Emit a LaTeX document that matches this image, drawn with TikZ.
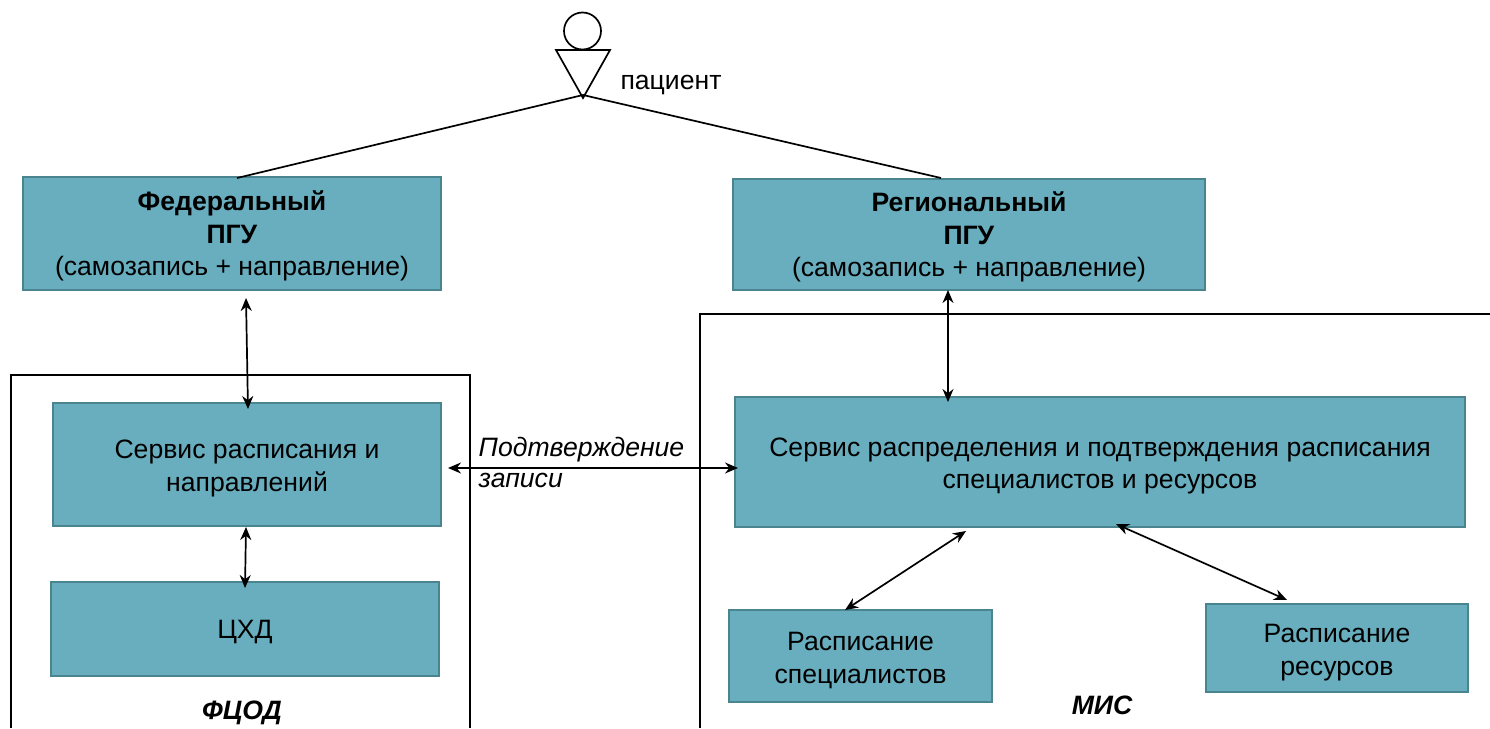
\documentclass[tikz,border=0pt]{standalone}
\usepackage{fontspec}
\setmainfont{Liberation Sans}
\usetikzlibrary{arrows.meta}
\definecolor{boxfill}{HTML}{68AEBE}
\definecolor{boxline}{HTML}{4A848F}
\newcommand{\toppad}[1][27pt]{\rule{0pt}{#1}}
\tikzset{
    block/.style={draw=boxline, fill=boxfill, line width=1.5pt, align=center, inner sep=0pt, font=\fontsize{26.6}{32.5}\selectfont},
    plain/.style={inner sep=0pt, font=\fontsize{26.6}{32}\selectfont},
    frame/.style={line width=1.7pt},
    link/.style={line width=1.7pt, {Stealth[length=13pt,width=11pt]}-{Stealth[length=13pt,width=11pt]}}
}
\begin{document}
\begin{tikzpicture}[x=1pt,y=-1pt]
        \useasboundingbox (0,0) rectangle (1490,728);
        % frames
        \draw[frame] (11,728) -- (11,375) -- (470,375) -- (470,728);
        \draw[frame] (700,728) -- (700,314) -- (1490,314);
        % patient
        \node[circle, draw, line width=1.7pt, minimum size=37pt, inner sep=0pt] (head) at (582.5,31){};
        \coordinate (bodyL) at (556,50);
        \coordinate (bodyR) at (610,50);
        \coordinate (bodytip) at (583,98);
        \coordinate (bodyjoin) at (583,95);
        \draw[frame] (bodyL) -- (bodyR) -- (bodytip) -- cycle;
        \node[plain] (patient) at (671,85){пациент};
        % boxes
        \node[block, minimum width=418pt, minimum height=113pt] (fed) at (232,233.5){\toppad[25pt]\textbf{Федеральный}\\\textbf{ПГУ}\\(самозапись + направление)};
        \node[block, minimum width=472pt, minimum height=111pt] (reg) at (969,234.5){\toppad[25pt]\textbf{Региональный}\\\textbf{ПГУ}\\(самозапись + направление)};
        \node[block, minimum width=388pt, minimum height=123pt] (sched) at (247,464.5){\toppad Сервис расписания и\\направлений};
        \node[block, minimum width=388pt, minimum height=94pt] (chd) at (245,629){\toppad[24pt]ЦХД};
        \node[block, minimum width=730pt, minimum height=130pt] (dist) at (1100,462){\toppad Сервис распределения и подтверждения расписания\\специалистов и ресурсов};
        \node[block, minimum width=263pt, minimum height=92pt] (spec) at (860.5,656){\toppad Расписание\\специалистов};
        \node[block, minimum width=262pt, minimum height=88pt] (res) at (1337,648){\toppad Расписание\\ресурсов};
        % captions
        \node[plain, font=\fontsize{26.6}{32}\selectfont\bfseries\itshape] (fcod) at (242,713){ФЦОД};
        \node[plain, font=\fontsize{26.6}{32}\selectfont\bfseries\itshape] (mis) at (1102,705){МИС};
        \node[plain, align=left, font=\fontsize{26.6}{31}\selectfont\itshape] (confirm) at (581.5,462){Подтверждение\\записи};
        % connector ends
        \coordinate (fedroof) at (237,178);
        \coordinate (regroof) at (941,178);
        \coordinate (fedlow) at (246,298);
        \coordinate (schedtop) at (248,409);
        \coordinate (schedlow) at (246,527);
        \coordinate (chdtop) at (245,588);
        \coordinate (reglow) at (948,290);
        \coordinate (disttop) at (948,402);
        \coordinate (schedright) at (448,468);
        \coordinate (distleft) at (738,468);
        \coordinate (distlowA) at (966,531);
        \coordinate (spectop) at (845,610);
        \coordinate (distlowB) at (1116,524);
        \coordinate (restop) at (1287,600);
        % connectors
        \draw[frame] (bodyjoin) -- (fedroof);
        \draw[frame] (bodyjoin) -- (regroof);
        \draw[link] (fedlow) -- (schedtop);
        \draw[link] (schedlow) -- (chdtop);
        \draw[link] (reglow) -- (disttop);
        \draw[link] (schedright) -- (distleft);
        \draw[link] (distlowA) -- (spectop);
        \draw[link] (distlowB) -- (restop);
    \end{tikzpicture}
\end{document}
